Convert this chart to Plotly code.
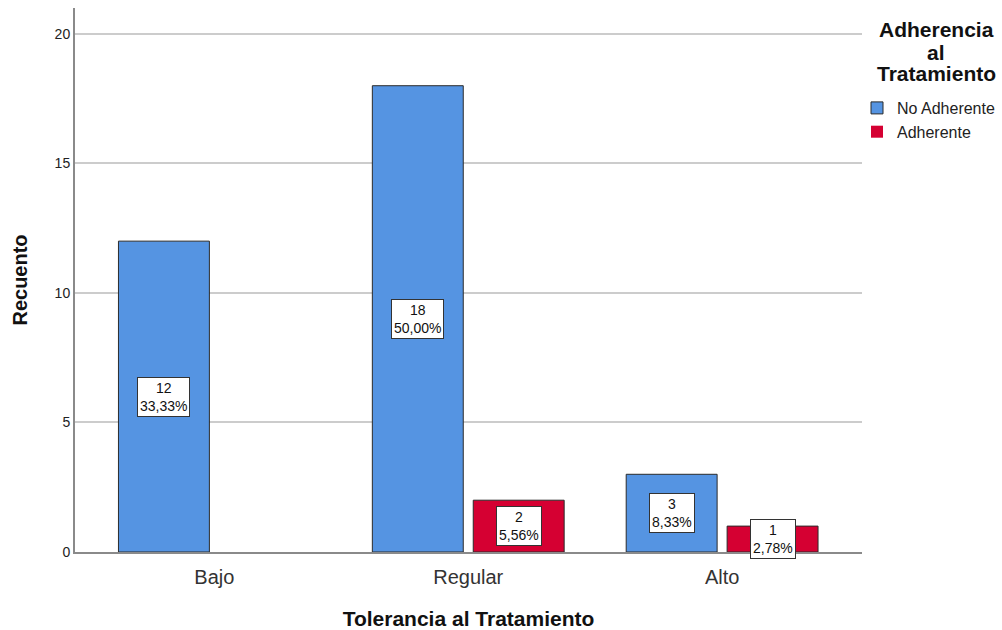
import plotly.graph_objects as go

# Recuento por tolerancia y adherencia
categorias = ["Bajo", "Regular", "Alto"]
no_adherente = [12, 18, 3]
adherente = [0, 2, 1]
pct_no_adherente = ["33,33%", "50,00%", "8,33%"]
pct_adherente = ["", "5,56%", "2,78%"]
titulo_leyenda = ["Adherencia", "al", "Tratamiento"]

azul = "#5594E2"
rojo = "#D50032"
fuente = "Liberation Sans, Arial, sans-serif"
borde = "#2b2b2b"

fig = go.Figure()
for nombre, serie, color in (("No Adherente", no_adherente, azul),
                             ("Adherente", adherente, rojo)):
    fig.add_trace(go.Bar(
        name=nombre, x=categorias, y=serie,
        marker=dict(color=color,
                    line=dict(color=borde, width=[1 if v > 0 else 0 for v in serie])),
    ))

# Etiquetas con recuento y porcentaje en el centro de cada barra
desplazamiento = 50.5
for serie, pcts, dx in ((no_adherente, pct_no_adherente, -desplazamiento),
                        (adherente, pct_adherente, desplazamiento)):
    for cat, v, p in zip(categorias, serie, pcts):
        if v <= 0:
            continue
        fig.add_annotation(x=cat, y=v / 2, xshift=dx, text=f"{v}<br>{p}",
                           showarrow=False, bgcolor="white", bordercolor="#333",
                           borderwidth=1, borderpad=2,
                           font=dict(family=fuente, size=14, color="#111"))

# Título de la leyenda, centrado y en tres líneas
alto_area = 630 - 8 - 78
for linea, ypx in zip(titulo_leyenda, (30, 52.5, 73.5)):
    fig.add_annotation(xref="paper", yref="paper", x=(936 - 75) / 787,
                       y=(552 - ypx) / alto_area, text=f"<b>{linea}</b>",
                       showarrow=False, xanchor="center", yanchor="middle",
                       font=dict(family=fuente, size=21, color="#111"))

fig.update_layout(
    width=1002, height=630,
    margin=dict(l=75, r=140, t=8, b=78, autoexpand=False),
    paper_bgcolor="white", plot_bgcolor="white",
    barmode="group", bargap=0.205, bargroupgap=0.099,
    font=dict(family=fuente, color="#222"),
    legend=dict(
        x=1 - 5 / 787, y=(552 - 91) / alto_area, xanchor="left", yanchor="top",
        font=dict(size=16, color="#222"), tracegroupgap=0,
        itemwidth=30,
    ),
    xaxis=dict(
        range=[-0.549, 2.551], showgrid=False,
        showline=True, linecolor="#8a8a8a", linewidth=2,
        ticks="", tickfont=dict(size=20, color="#333"),
        ticklabelstandoff=6,
        title=dict(text="<b>Tolerancia al Tratamiento</b>",
                   font=dict(size=21, color="#111"), standoff=24),
    ),
    yaxis=dict(
        range=[0, 21], tickvals=[0, 5, 10, 15, 20],
        showgrid=True, gridcolor="#cccccc", gridwidth=1.5,
        showline=True, linecolor="#8a8a8a", linewidth=2,
        zeroline=False, ticks="", ticklen=0,
        tickfont=dict(size=14, color="#222"),
        title=dict(text="<b>Recuento</b>", font=dict(size=20, color="#111"),
                   standoff=22),
    ),
)

fig.write_html("out.html")
